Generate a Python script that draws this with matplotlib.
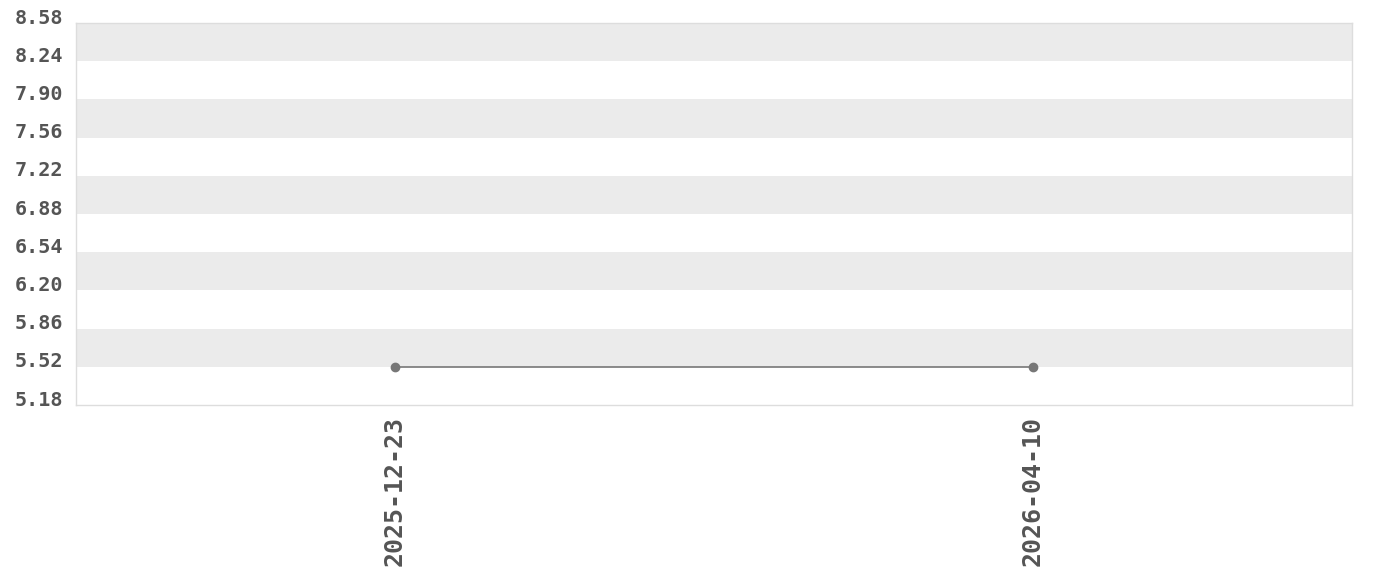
import matplotlib
matplotlib.use('Agg')
import matplotlib.pyplot as plt
import matplotlib.transforms as mtransforms
import numpy as np

## data
dates = ['2025-12-23', '2026-04-10']
values = [5.52, 5.52]
yticks = [5.18, 5.52, 5.86, 6.20, 6.54, 6.88, 7.22, 7.56, 7.90, 8.24, 8.58]

plt.rcParams['font.family'] = ['DejaVu Sans Mono']
plt.rcParams['font.weight'] = 'bold'

fig = plt.figure(figsize=(13.8, 5.8), dpi=100)
ax = fig.add_axes([76/1380, 1-405/580, 1276/1380, 382/580])

## alternating bands
for i in range(1, len(yticks)-1, 2):
    ax.axhspan(yticks[i], yticks[i+1], color='#ebebeb', lw=0, zorder=0)

xx = np.arange(len(dates))
ax.plot(xx, values, color='#777777', lw=1.2, marker='o', ms=6, zorder=3)

ax.set_xlim(-0.5, len(dates)-0.5)
ax.set_ylim(yticks[0], yticks[-1])
ax.set_yticks(yticks)
ax.set_yticklabels(['%.2f' % v for v in yticks])
ax.set_xticks(xx)
ax.set_xticklabels(dates, rotation=90)
ax.tick_params(axis='y', length=0, pad=9, labelsize=14.5, labelcolor='#555555')
ax.tick_params(axis='x', length=0, pad=8, labelsize=18, labelcolor='#555555')

# y labels sit a little above their lines
shift = mtransforms.ScaledTranslation(0, 7/100, fig.dpi_scale_trans)
for lab in ax.get_yticklabels():
    lab.set_transform(lab.get_transform() + shift)

for s in ax.spines.values():
    s.set_color('#dddddd')
    s.set_linewidth(1)

fig.savefig('out.png', dpi=100)
